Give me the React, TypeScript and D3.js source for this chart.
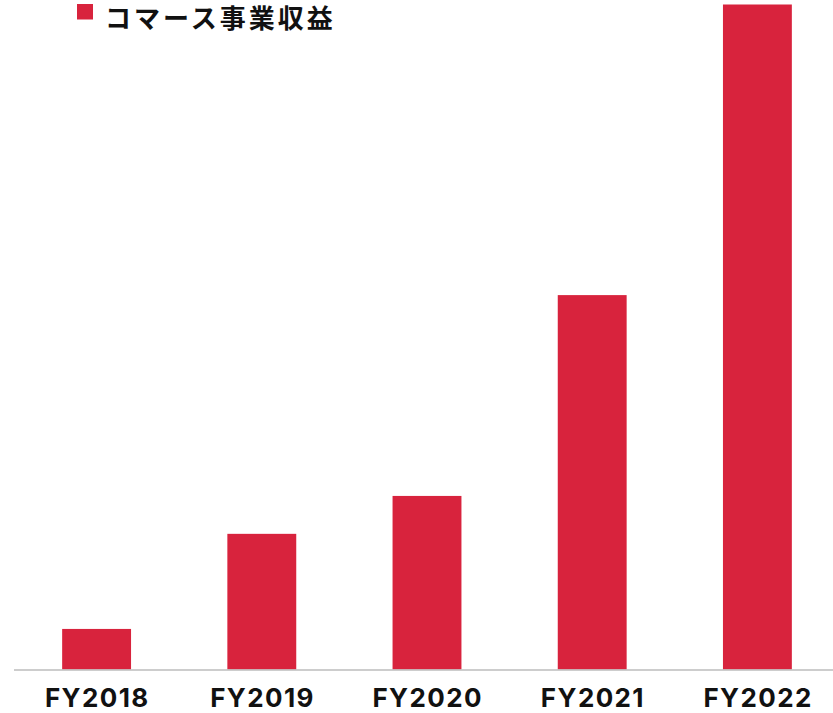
import React from "react";
import * as d3 from "d3";

const categories = ["FY2018", "FY2019", "FY2020", "FY2021", "FY2022"];
const revenue = [6.1, 20.4, 26.1, 56.3, 100];
const legendLabel = "コマース事業収益";

const W = 833;
const H = 713;
const BAR = "#d8233d";

export default function App() {
  const x = d3.scaleBand<string>().domain(categories).range([14, 840]).paddingInner(0.583).paddingOuter(0.2915);
  const y = d3.scaleLinear().domain([0, 100]).range([669.5, 4.5]);
  return (
    <svg width={W} height={H} style={{ position: "absolute", left: 0, top: 0, background: "#fff" }}>
      {categories.map((c, i) => (
        <rect key={c} x={x(c)} y={y(revenue[i])} width={x.bandwidth()} height={y(0) - y(revenue[i])} fill={BAR} />
      ))}
      <line x1={14} x2={W} y1={670} y2={670} stroke="#bdbdbd" strokeWidth={1.5} />
      {categories.map((c) => (
        <text key={c} x={(x(c) as number) + x.bandwidth() / 2 + 0.7} y={707} textAnchor="middle"
          fontFamily="Inter, 'Noto Sans', sans-serif" fontWeight={700} fontSize={26} letterSpacing={1.4} fill="#111">
          {c}
        </text>
      ))}
      <rect x={77} y={4} width={16} height={15.5} fill={BAR} />
      <text x={105} y={16.5} dominantBaseline="central" fontFamily="'Noto Sans CJK JP', sans-serif" fontWeight={700}
        fontSize={26} letterSpacing={3} fill="#111">
        {legendLabel}
      </text>
    </svg>
  );
}
